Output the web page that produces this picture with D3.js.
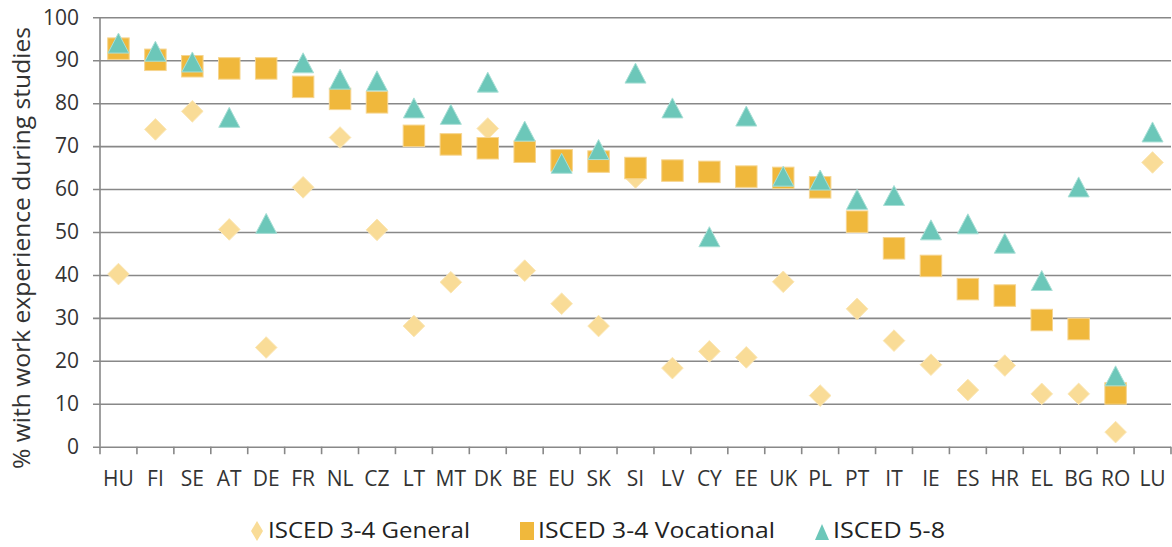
<!DOCTYPE html>
<html>
<head>
<meta charset="utf-8">
<script src="https://cdn.jsdelivr.net/npm/d3@7"></script>
<style>
  html, body { margin: 0; padding: 0; background: #ffffff; }
  svg { display: block; }
</style>
</head>
<body>
<svg id="chart" width="1172" height="547"></svg>
<script>
const categories = ["HU","FI","SE","AT","DE","FR","NL","CZ","LT","MT","DK","BE","EU","SK","SI","LV","CY","EE","UK","PL","PT","IT","IE","ES","HR","EL","BG","RO","LU"];
const general    = [40.2,73.9,78.1,50.6,23.1,60.4,72.0,50.5,28.1,38.3,74.1,41.0,33.3,28.1,62.7,18.3,22.2,20.8,38.4,11.9,32.1,24.7,19.1,13.2,18.9,12.3,12.3,3.4,66.2];
const vocational = [92.7,90.1,88.6,88.1,88.1,83.8,81.0,80.2,72.4,70.4,69.5,68.7,66.7,66.4,64.9,64.3,64.0,62.9,62.6,60.4,52.4,46.2,42.1,36.7,35.2,29.5,27.4,12.4,null];
const tertiary   = [94.0,92.1,89.6,76.7,52.0,89.4,85.6,85.2,78.9,77.4,84.9,73.5,66.0,69.2,87.0,78.9,48.9,77.0,63.0,62.1,57.6,58.5,50.5,51.9,47.4,38.7,60.5,16.5,73.3];
const yTicks = [0,10,20,30,40,50,60,70,80,90,100];
const seriesNames = ["ISCED 3-4 General","ISCED 3-4 Vocational","ISCED 5-8"];

(function () {
const colGeneral = "#F9DC97", colVoc = "#F0B83C", colTer = "#6CC7B9";
const gridCol = "#888888";
const font = "'Open Sans', 'Noto Sans', sans-serif";

const svg = d3.select("#chart");
const pL = 100, pR = 1171, pT = 17.3, pB = 446.7;

const x = d3.scaleBand().domain(categories).range([pL, pR]).padding(0);
const y = d3.scaleLinear().domain([0, 100]).range([pB, pT]);

// Gridlines + y ticks
const yAxis = d3.axisLeft(y).tickValues(yTicks).tickSize(-(pR - pL)).tickPadding(21).tickFormat(d3.format("d"));
const gy = svg.append("g").attr("transform", `translate(${pL},0)`).call(yAxis);
gy.select(".domain").remove();
gy.selectAll(".tick line").attr("stroke", gridCol).attr("stroke-width", 1.6).attr("x1", -7);
gy.selectAll(".tick text").attr("fill", "#333").style("font-family", font).style("font-size", "21px");

// vertical axis line
svg.append("line").attr("x1", pL).attr("x2", pL).attr("y1", pT).attr("y2", pB)
  .attr("stroke", gridCol).attr("stroke-width", 1.6);

// bottom axis
const xAxis = d3.axisBottom(x).tickSize(0).tickPadding(24);
const gx = svg.append("g").attr("transform", `translate(0,${pB})`).call(xAxis);
gx.select(".domain").remove();
gx.selectAll(".tick text").attr("fill", "#333").style("font-family", font).style("font-size", "21px");
// band boundary ticks
const bounds = categories.map(c => x(c)).concat([pR]);
svg.append("g").selectAll("line").data(bounds).join("line")
  .attr("x1", d => d).attr("x2", d => d).attr("y1", pB).attr("y2", pB + 7.5)
  .attr("stroke", gridCol).attr("stroke-width", 1.6);

// y-axis title
svg.append("text")
  .attr("transform", `translate(30,248) rotate(-90)`)
  .attr("text-anchor", "middle")
  .attr("textLength", 442).attr("lengthAdjust", "spacingAndGlyphs")
  .attr("fill", "#333")
  .style("font-family", font).style("font-size", "23px")
  .text("% with work experience during studies");

const cx = i => x(categories[i]) + x.bandwidth() / 2;

const diamondPath = (s) => `M0,${-s}L${s},0L0,${s}L${-s},0Z`;
const triPath = (w, h) => `M0,${-h/2}L${w/2},${h/2}L${-w/2},${h/2}Z`;

const marks = svg.append("g");
marks.selectAll("path.gen").data(general.map((v, i) => ({v, i})).filter(d => d.v != null)).join("path")
  .attr("class", "gen")
  .attr("d", diamondPath(10.8))
  .attr("transform", d => `translate(${cx(d.i)},${y(d.v)})`)
  .attr("fill", colGeneral).attr("stroke", "#FBE6B4").attr("stroke-width", 1);

marks.selectAll("rect.voc").data(vocational.map((v, i) => ({v, i})).filter(d => d.v != null)).join("rect")
  .attr("class", "voc")
  .attr("x", d => cx(d.i) - 10.75).attr("y", d => y(d.v) - 10.75)
  .attr("width", 21.5).attr("height", 21.5)
  .attr("fill", colVoc).attr("stroke", "#F6D590").attr("stroke-width", 1);

marks.selectAll("path.ter").data(tertiary.map((v, i) => ({v, i})).filter(d => d.v != null)).join("path")
  .attr("class", "ter")
  .attr("d", triPath(21, 20))
  .attr("transform", d => `translate(${cx(d.i)},${y(d.v)})`)
  .attr("fill", colTer).attr("stroke", "#A9DFD6").attr("stroke-width", 1);

// Legend
const legY = 531;
const leg = svg.append("g");
const legItems = [
  {name: seriesNames[0], sx: 257, tx: 268, len: 202},
  {name: seriesNames[1], sx: 527, tx: 538, len: 237},
  {name: seriesNames[2], sx: 822, tx: 833, len: 112}
];
leg.append("path").attr("d", `M0,-10L6,0L0,10L-6,0Z`).attr("transform", `translate(${legItems[0].sx},${legY})`).attr("fill", colGeneral);
leg.append("rect").attr("x", legItems[1].sx - 7).attr("y", legY - 9).attr("width", 14).attr("height", 18).attr("fill", colVoc);
leg.append("path").attr("d", triPath(14, 16)).attr("transform", `translate(${legItems[2].sx},${legY + 1})`).attr("fill", colTer);
leg.selectAll("text").data(legItems).join("text")
  .attr("x", d => d.tx).attr("y", legY).attr("dy", "0.35em")
  .attr("textLength", d => d.len).attr("lengthAdjust", "spacingAndGlyphs")
  .attr("fill", "#222")
  .style("font-family", font).style("font-size", "21px")
  .text(d => d.name);
})();
</script>
</body>
</html>
